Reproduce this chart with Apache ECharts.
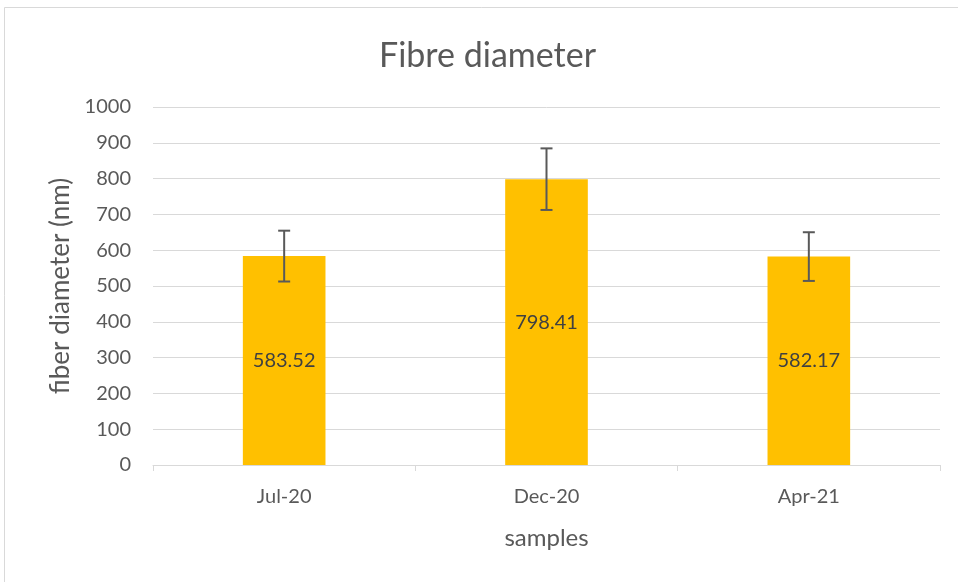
<!DOCTYPE html>
<html><head><meta charset="utf-8">
<script src="https://cdn.jsdelivr.net/npm/echarts@6/dist/echarts.min.js"></script>
<style>html,body{margin:0;padding:0;background:#fff}#c{width:958px;height:582px}</style>
</head><body><div id="c"></div>
<script>
const categories = ['Jul-20', 'Dec-20', 'Apr-21'];
const values = [583.52, 798.41, 582.17];
const errors = [71, 86, 68];
const yTicks = [0, 100, 200, 300, 400, 500, 600, 700, 800, 900, 1000];

const FONT = 'Lato';
const chart = echarts.init(document.getElementById('c'), null, {renderer: 'canvas'});
chart.setOption({
  backgroundColor: '#fff',
  animation: false,
  textStyle: {fontFamily: FONT},
  graphic: [{
    type: 'rect', shape: {x: 4.5, y: 7.5, width: 1000, height: 1000},
    style: {fill: 'none', stroke: '#d9d9d9', lineWidth: 1}, silent: true, z: -1
  }],
  title: {
    text: 'Fibre diameter', left: 374, top: 34,
    textStyle: {fontFamily: FONT, fontSize: 34, fontWeight: 'normal', color: '#595959'}
  },
  grid: {left: 153, right: 18, top: 107, bottom: 117},
  xAxis: {
    type: 'category', data: categories,
    name: 'samples', nameLocation: 'middle', nameGap: 61,
    nameTextStyle: {fontFamily: FONT, fontSize: 24, color: '#595959'},
    axisLine: {lineStyle: {color: '#d9d9d9', width: 1}},
    axisTick: {show: true, length: 6, lineStyle: {color: '#d9d9d9'}},
    axisLabel: {fontFamily: FONT, fontSize: 20, color: '#595959', margin: 22}
  },
  yAxis: {
    type: 'value', min: yTicks[0], max: yTicks[yTicks.length - 1], interval: 100,
    name: 'fiber diameter (nm)', nameLocation: 'middle', nameGap: 77,
    nameTextStyle: {fontFamily: FONT, fontSize: 26, color: '#595959'},
    axisLine: {show: false}, axisTick: {show: false},
    axisLabel: {fontFamily: FONT, fontSize: 20, color: '#595959', margin: 22,
      formatter: v => String(v)},
    splitLine: {lineStyle: {color: '#d9d9d9', width: 1}}
  },
  series: [{
    type: 'bar', data: values, barWidth: '31.5%',
    itemStyle: {color: '#ffc000'},
    label: {show: true, position: 'inside', fontFamily: FONT, fontSize: 20, color: '#404040',
      formatter: p => p.value.toFixed(2)}
  }, {
    type: 'custom',
    data: values.map((v, i) => [i, v - errors[i], v + errors[i]]),
    renderItem: function (params, api) {
      const lo = api.coord([api.value(0), api.value(1)]);
      const hi = api.coord([api.value(0), api.value(2)]);
      const hw = 6;
      const st = {stroke: '#595959', lineWidth: 2};
      return {type: 'group', children: [
        {type: 'line', shape: {x1: hi[0], y1: hi[1], x2: lo[0], y2: lo[1]}, style: st},
        {type: 'line', shape: {x1: hi[0] - hw, y1: hi[1], x2: hi[0] + hw, y2: hi[1]}, style: st},
        {type: 'line', shape: {x1: lo[0] - hw, y1: lo[1], x2: lo[0] + hw, y2: lo[1]}, style: st}
      ]};
    },
    z: 10
  }]
});
</script></body></html>
